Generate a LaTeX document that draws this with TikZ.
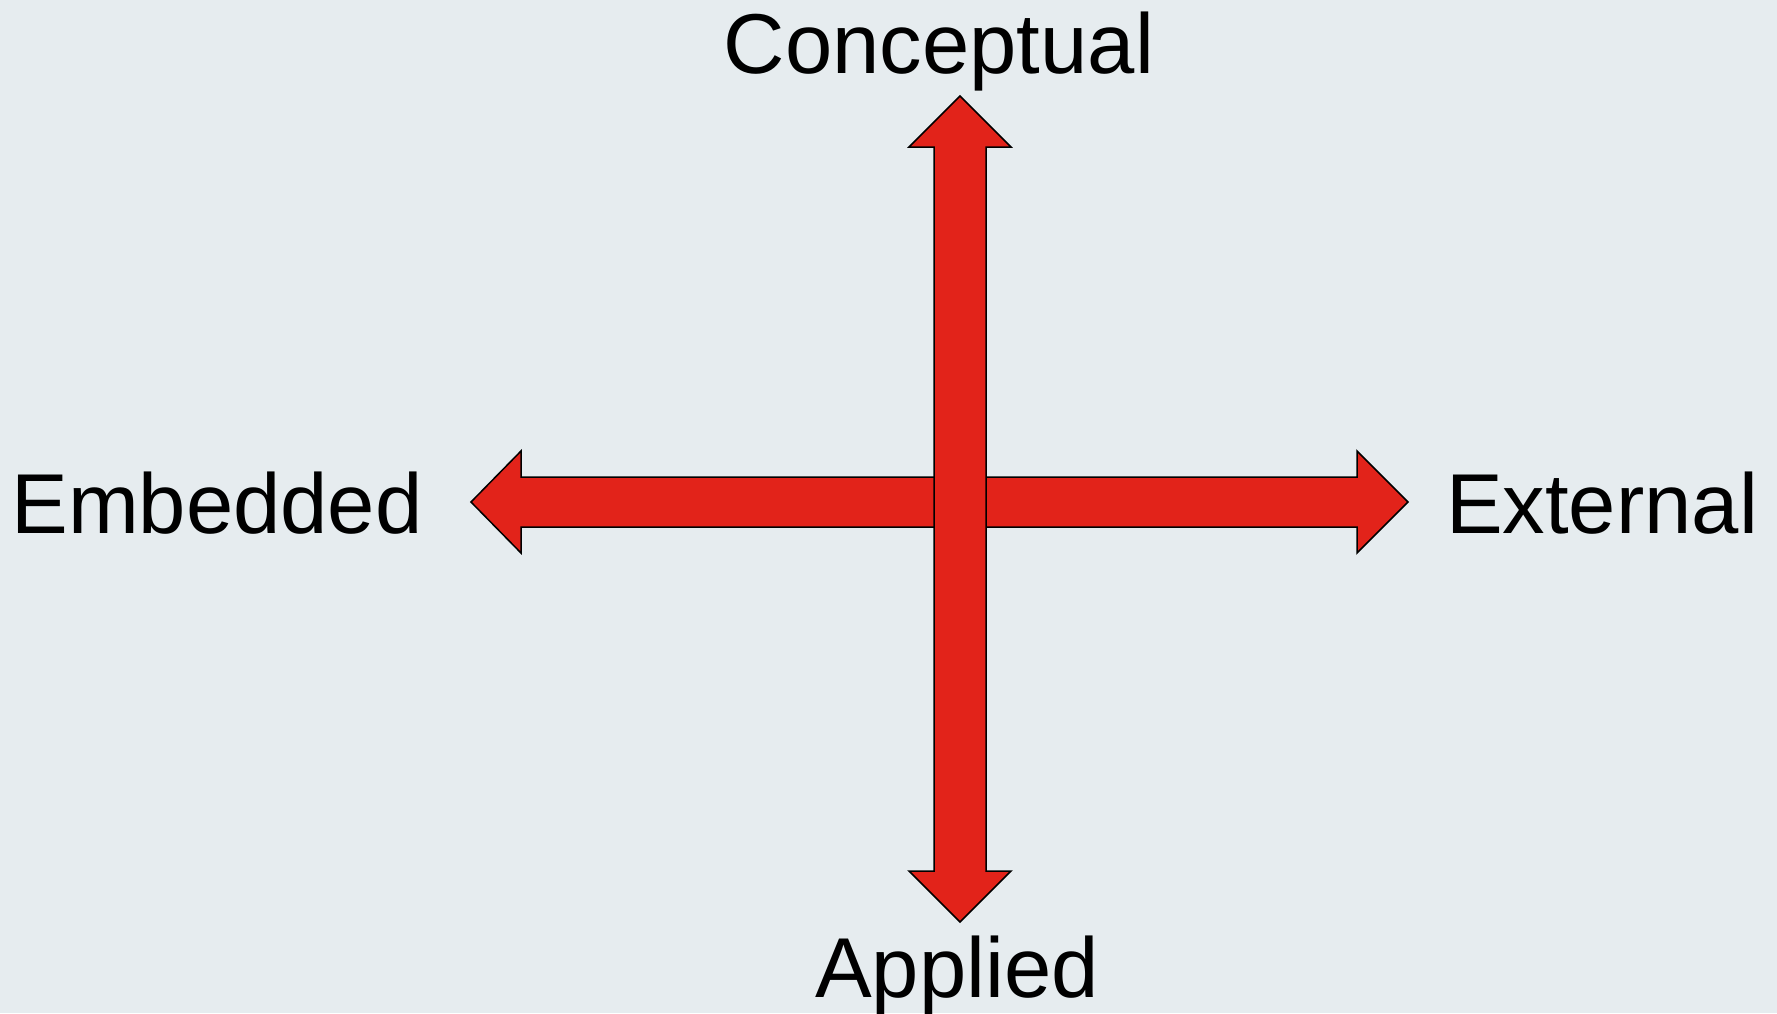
\documentclass[tikz,border=0pt]{standalone}
\usepackage{fontspec}
\setmainfont{Liberation Sans}
\definecolor{bgcol}{RGB}{230,236,239}
\definecolor{arrowred}{RGB}{226,35,26}
\begin{document}
\begin{tikzpicture}[x=0.5pt,y=-0.5pt,
  axisarrow/.style={fill=arrowred,draw=black,line width=0.75pt,line join=miter},
  axislabel/.style={inner sep=0pt,anchor=base,font=\fontsize{42.5pt}{50pt}\selectfont,text=black}]
\fill[bgcol] (0,0) rectangle (1777,1013);
\useasboundingbox (0,0) rectangle (1777,1013);
% horizontal double arrow
\draw[axisarrow] (471,502) -- (521,451) -- (521,477) -- (1357,477) -- (1357,451) -- (1408,502)
  -- (1357,553) -- (1357,527) -- (521,527) -- (521,553) -- cycle;
% vertical double arrow
\draw[axisarrow] (960,96) -- (1011,147) -- (986,147) -- (986,871) -- (1011,871) -- (960,922)
  -- (909,871) -- (934,871) -- (934,147) -- (909,147) -- cycle;
\node[axislabel] (conceptual) at (939,73) {Conceptual};
\node[axislabel] (embedded) at (217,533) {Embedded};
\node[axislabel] (external) at (1602,533) {External};
\node[axislabel] (applied) at (957,997) {Applied};
\end{tikzpicture}
\end{document}
